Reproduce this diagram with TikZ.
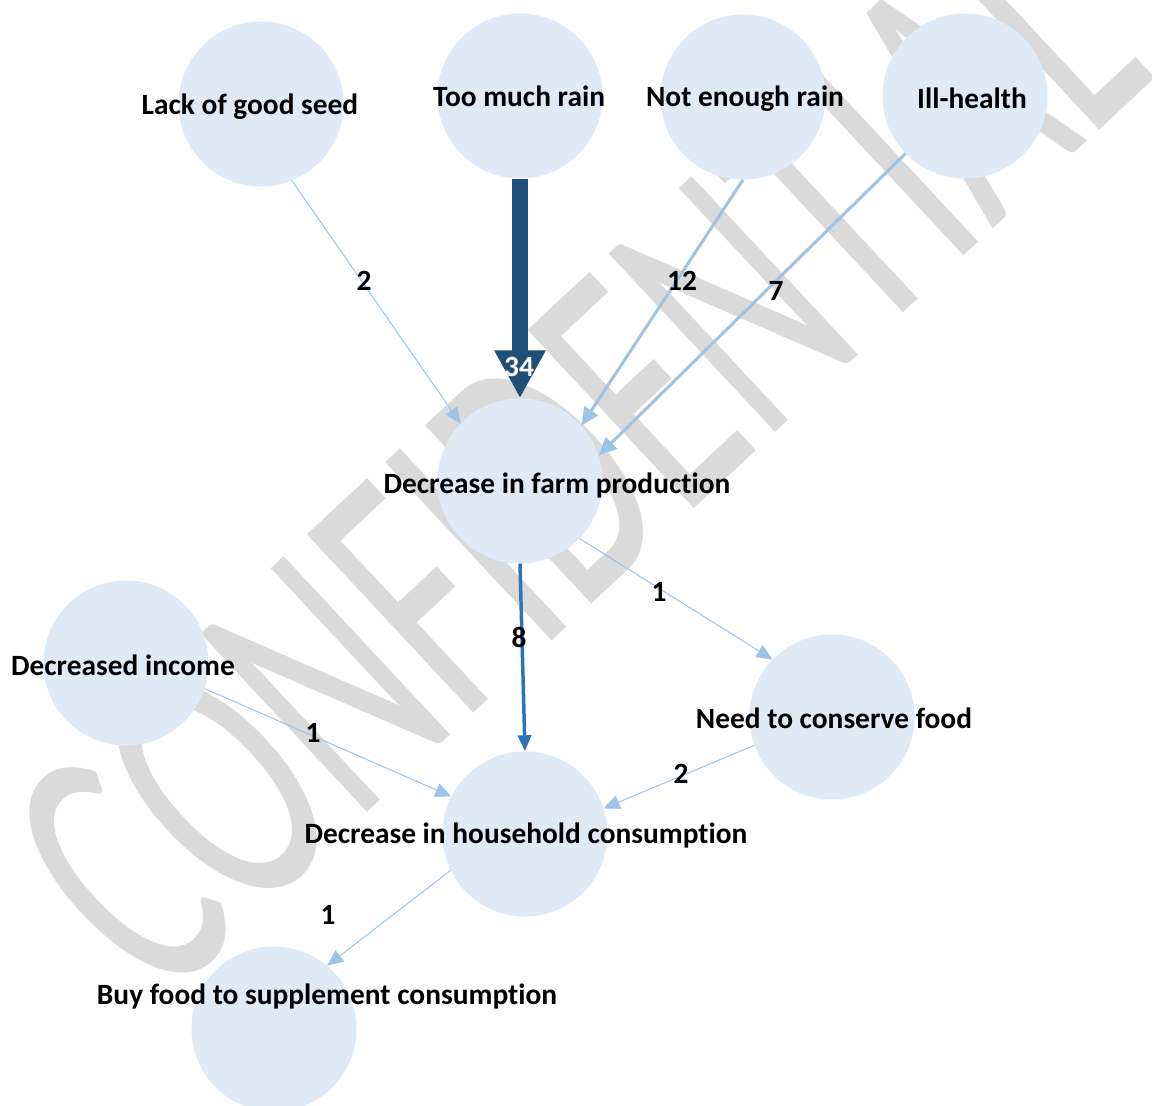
\documentclass[tikz,border=0pt]{standalone}
\usepackage{fontspec}
\setmainfont{Carlito}[Ligatures={NoCommon}]
\usetikzlibrary{arrows.meta}

\definecolor{bubble}{RGB}{222,235,247}
\definecolor{linkpale}{RGB}{157,195,230}
\definecolor{linkmid}{RGB}{46,117,182}
\definecolor{linkdark}{RGB}{31,78,121}
\definecolor{stamp}{RGB}{218,218,218}

\tikzset{
  bubble/.style={circle, fill=bubble, draw=none, minimum size=165pt, inner sep=0pt},
  lbl/.style={font=\bfseries\fontsize{29.4}{32}\selectfont, text=black, inner sep=0pt, anchor=base},
  num/.style={lbl},
  thinlink/.style={draw=linkpale, line width=1pt, -{Triangle[length=16pt,width=14pt]}},
  midlink/.style={draw=linkpale, line width=3pt, -{Triangle[length=18pt,width=16pt]}},
  stronglink/.style={draw=linkmid, line width=3.5pt, -{Triangle[length=16pt,width=13pt]}},
  heavylink/.style={draw=linkdark, line width=16pt, -{Triangle[length=48pt,width=48pt]}},
}

\begin{document}
\begin{tikzpicture}[x=1pt, y=-1pt]
  \useasboundingbox (0,0) rectangle (1152,1106);
  \clip (0,0) rectangle (1152,1106);
  \fill[white] (0,0) rectangle (1152,1106);

  % diagonal stamp behind the diagram
  \begin{scope}[shift={(159,1007)}, rotate=43, xscale=0.596]
    \node[transform shape, anchor=base west, inner sep=0pt, outer sep=0pt,
          text=stamp, font=\fontsize{380}{380}\selectfont] (stamp) at (0,0) {CONFIDENTIAL};
  \end{scope}

  % circles
  \node[bubble] (seed)      at (261,104)  {};
  \node[bubble] (much)      at (520,96)   {};
  \node[bubble] (notenough) at (743,97)   {};
  \node[bubble] (ill)       at (965,96)   {};
  \node[bubble] (farm)      at (520,481)  {};
  \node[bubble] (income)    at (126,663)  {};
  \node[bubble] (conserve)  at (832,717)  {};
  \node[bubble] (household) at (525,834)  {};
  \node[bubble] (buy)       at (274,1029) {};

  % links
  \draw[thinlink]   (seed.-68)      -- (farm.136);
  \draw[heavylink]  (much.south)    -- (farm.north);
  \draw[midlink]    (notenough.south) -- (farm.42);
  \draw[midlink]    (ill.224)       -- (farm.18);
  \draw[thinlink]   (farm.-44)      -- (conserve.136);
  \draw[stronglink] (farm.south)    -- (household.north);
  \draw[thinlink]   (income.-18)    -- (household.153);
  \draw[thinlink]   (conserve.200)  -- (household.18);
  \draw[thinlink]   (household.206) -- (buy.50);

  % circle captions
  \node[lbl] (seed-t)      at (250,114.5) {Lack of good seed};
  \node[lbl] (much-t)      at (519,106)   {Too much rain};
  \node[lbl] (notenough-t) at (745,106.5) {Not enough rain};
  \node[lbl] (ill-t)       at (972,108.5) {Ill-health};
  \node[lbl] (farm-t)      at (557,493)   {Decrease in farm production};
  \node[lbl] (income-t)    at (123,675)   {Decreased income};
  \node[lbl] (conserve-t)  at (834,728)   {Need to conserve food};
  \node[lbl] (household-t) at (526,843)   {Decrease in household consumption};
  \node[lbl] (buy-t)       at (327,1004)  {Buy food to supplement consumption};

  % link weights
  \node[num] (w-seed)      at (364,290) {2};
  \node[num, text=white] (w-much) at (519,376) {34};
  \node[num] (w-notenough) at (682,290) {12};
  \node[num] (w-ill)       at (776,300) {7};
  \node[num] (w-conserve)  at (659,601) {1};
  \node[num] (w-farm)      at (519,647) {8};
  \node[num] (w-income)    at (313,742) {1};
  \node[num] (w-need)      at (681,783) {2};
  \node[num] (w-buy)       at (328,924) {1};
\end{tikzpicture}
\end{document}
